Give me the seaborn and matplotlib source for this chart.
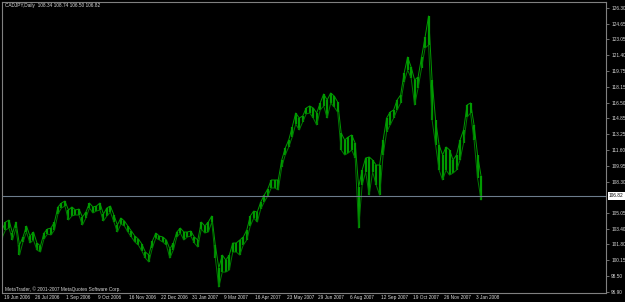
import numpy as np
import pandas as pd
import matplotlib
matplotlib.use("Agg")
import matplotlib.pyplot as plt
import matplotlib.transforms as mtransforms
import seaborn as sns

# ---- data (one sample every 3 daily bars) ----
highs = [103.29, 104.12, 104.33, 102.98, 104.12, 101.74, 102.57, 103.71, 102.67, 103.09,
         101.95, 101.64, 102.98, 103.40, 103.50, 104.12, 105.68, 106.09, 106.30, 105.37,
         105.68, 105.37, 105.47, 104.64, 105.16, 106.09, 105.68, 105.78, 106.09, 104.95,
         105.58, 105.78, 104.85, 103.81, 104.54, 104.23, 103.71, 103.19, 102.67, 102.36,
         101.84, 101.02, 100.70, 102.16, 102.98, 102.67, 102.57, 102.26, 101.33, 101.95,
         103.09, 103.50, 103.09, 103.09, 103.19, 102.57, 102.26, 104.12, 103.71, 104.12,
         104.75, 101.74, 99.36, 100.70, 100.19, 100.70, 101.95, 101.95, 102.26, 102.57,
         103.29, 104.75, 105.26, 105.16, 106.20, 106.92, 107.54, 108.48, 108.48, 108.48,
         110.55, 111.79, 112.62, 113.97, 115.42, 114.90, 115.11, 115.94, 116.15, 115.94,
         115.42, 116.46, 117.39, 116.77, 117.49, 117.18, 116.56, 113.35, 112.62, 112.93,
         113.14, 112.31, 107.75, 109.51, 110.76, 110.86, 110.55, 110.03, 110.03, 112.62,
         114.90, 115.52, 115.73, 116.77, 117.28, 119.56, 121.22, 120.19, 118.84, 119.15,
         121.22, 123.30, 125.47, 118.84, 114.69, 112.10, 111.07, 111.90, 111.59, 110.55,
         111.07, 112.62, 113.66, 116.25, 116.46, 114.18, 111.07, 108.89]
lows = [102.47, 103.29, 103.50, 102.26, 103.50, 100.70, 102.05, 103.09, 101.95, 102.26,
        101.22, 101.02, 102.36, 102.88, 102.78, 103.29, 104.95, 105.58, 105.78, 104.33,
        104.75, 104.85, 104.85, 103.81, 104.54, 105.58, 105.06, 105.26, 105.37, 104.23,
        104.75, 105.16, 104.12, 103.09, 103.92, 103.71, 103.09, 102.57, 102.05, 101.74,
        101.12, 100.39, 99.98, 101.43, 102.47, 102.26, 102.05, 101.74, 100.39, 101.22,
        102.57, 102.98, 102.26, 102.57, 102.67, 101.95, 101.53, 103.40, 102.98, 103.09,
        104.12, 100.39, 97.39, 98.94, 98.94, 99.15, 101.02, 101.02, 100.70, 101.74,
        102.26, 103.71, 104.54, 104.12, 105.47, 106.20, 106.82, 107.65, 107.65, 107.44,
        109.82, 111.07, 111.90, 112.93, 114.28, 113.66, 114.49, 115.32, 115.42, 114.90,
        114.18, 115.73, 116.15, 114.90, 116.46, 116.04, 115.52, 111.59, 111.07, 111.27,
        111.59, 110.76, 103.50, 107.96, 109.31, 106.92, 109.31, 107.96, 106.92, 111.07,
        113.45, 114.18, 114.90, 115.73, 116.46, 118.63, 119.87, 119.05, 116.25, 118.01,
        120.08, 122.16, 122.47, 114.69, 112.10, 109.51, 108.48, 109.51, 108.99, 109.20,
        109.51, 110.55, 112.31, 115.00, 115.42, 112.62, 108.68, 106.40]
bar_step = 3          # daily bars between samples
date_labels = ["19 Jun 2006", "26 Jul 2006", "1 Sep 2006", "9 Oct 2006", "16 Nov 2006",
               "22 Dec 2006", "31 Jan 2007", "9 Mar 2007", "16 Apr 2007", "23 May 2007",
               "29 Jun 2007", "6 Aug 2007", "12 Sep 2007", "19 Oct 2007", "26 Nov 2007",
               "3 Jan 2008"]
bars_per_label = 27
ytick_values = [126.30, 124.65, 123.05, 121.40, 119.75, 118.15, 116.50, 114.85, 113.25,
                111.60, 109.95, 108.30, 105.05, 103.40, 101.80, 100.15, 98.50, 96.90]
last_close = 106.82
header = "CADJPY,Daily  108.34 108.74 106.50 106.82"
footer = "MetaTrader, \u00a9 2001-2007 MetaQuotes Software Corp."

# ---- style ----
sns.set_style("dark", {"axes.facecolor": "black", "figure.facecolor": "black"})
plt.rcParams["font.family"] = ["Liberation Sans", "DejaVu Sans"]

GREEN = "#009a00"
GRID = "#808080"
TXT = "#d8d8d8"
FS = 3.4

df = pd.DataFrame({
    "bar": np.arange(len(highs)) * bar_step,
    "high": highs,
    "low": lows,
})

fig = plt.figure(figsize=(6.25, 3.02), dpi=100, facecolor="black")
ax = fig.add_axes([2 / 625, 9 / 302, 604 / 625, 291 / 302])
ax.set_facecolor("black")

ax.vlines(df["bar"], df["low"], df["high"], color=GREEN, lw=1.6)
sns.lineplot(data=df, x="bar", y="high", color=GREEN, lw=0.7, ax=ax, estimator=None)
sns.lineplot(data=df, x="bar", y="low", color="#007a00", lw=0.7, ax=ax, estimator=None)

ax.axhline(last_close, color="#6c7c8c", lw=0.8)

ax.set_xlim(0, 518.2)
ax.set_ylim(96.77, 126.92)
ax.set_xlabel("")
ax.set_ylabel("")
ax.grid(False)

for s in ax.spines.values():
    s.set_color(GRID)
    s.set_linewidth(0.8)
    s.set_visible(True)

# y axis on the right
ax.yaxis.tick_right()
ax.set_yticks(ytick_values)
ax.set_yticklabels([f"{v:.2f}" for v in ytick_values])
ax.tick_params(axis="y", direction="out", length=2.5, width=0.6, color=GRID,
               labelsize=FS, labelcolor=TXT, pad=1.2)

# x axis with date labels to the right of each tick
xt = [i * bars_per_label for i in range(len(date_labels))]
ax.set_xticks(xt)
ax.set_xticklabels(date_labels)
ax.tick_params(axis="x", direction="out", length=3, width=0.6, color=GRID,
               labelsize=FS, labelcolor=TXT, pad=0.5)
offset = mtransforms.ScaledTranslation(1.5 / 100, 2.5 / 100, fig.dpi_scale_trans)
for lab in ax.get_xticklabels():
    lab.set_horizontalalignment("left")
    lab.set_transform(lab.get_transform() + offset)

# current price box
trans = mtransforms.blended_transform_factory(ax.transAxes, ax.transData)
ax.text(1.0 + 3 / 604, last_close, f"{last_close:.2f}", transform=trans, ha="left",
        va="center", fontsize=FS, color="black",
        bbox=dict(facecolor="white", edgecolor="none", pad=0.8))

ax.text(3 / 604, 1 - 4 / 291, header, transform=ax.transAxes, ha="left", va="center",
        fontsize=FS, color=TXT)
ax.text(3 / 604, 4 / 291, footer, transform=ax.transAxes, ha="left", va="center",
        fontsize=FS, color=TXT)

fig.savefig("out.png", dpi=100, facecolor="black")
